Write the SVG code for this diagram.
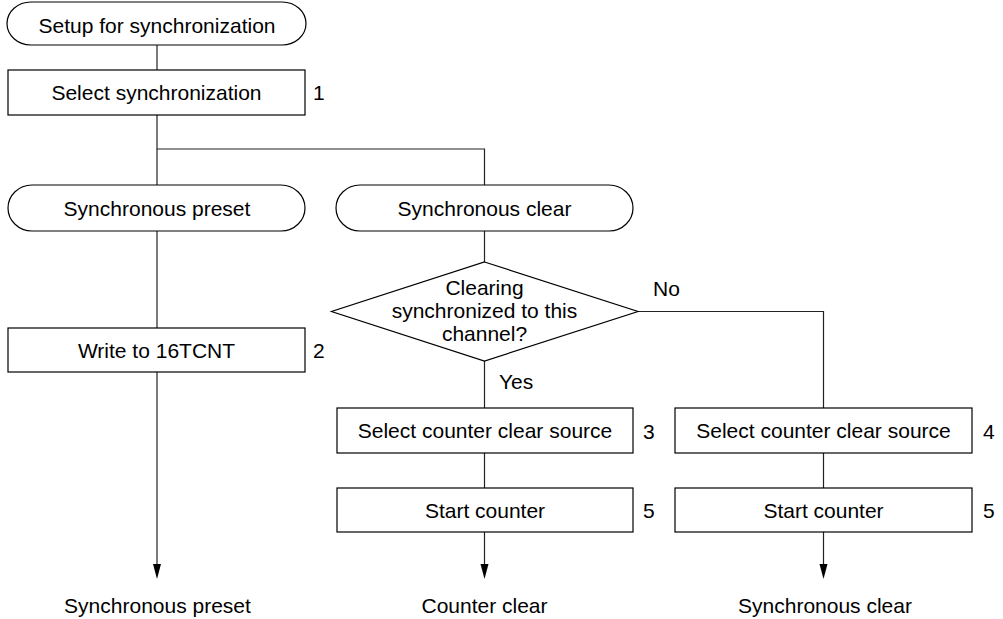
<svg xmlns="http://www.w3.org/2000/svg" width="1003" height="619" viewBox="0 0 1003 619">
<style>
  .shape { fill: #ffffff; stroke: #000000; stroke-width: 1.2; }
  .conn { fill: none; stroke: #222222; stroke-width: 1.2; }
  text { font-family: "Liberation Sans", Arial, sans-serif; font-size: 21px; fill: #000000; }
  .c { text-anchor: middle; }
</style>
<defs>
  <marker id="arr" markerWidth="8" markerHeight="15" refX="4" refY="15" orient="auto" markerUnits="userSpaceOnUse" viewBox="0 0 8 15">
    <path d="M0,0 L8,0 L4,15 Z" fill="#000000"/>
  </marker>
</defs>
<rect width="1003" height="619" fill="#ffffff"/>

<g id="connectors">
  <line class="conn" x1="157" y1="45" x2="157" y2="70"/>
  <polyline class="conn" points="157,115 157,149 484.5,149 484.5,185"/>
  <line class="conn" x1="157" y1="149" x2="157" y2="185"/>
  <line class="conn" x1="157" y1="231" x2="157" y2="328"/>
  <path class="conn" d="M157,372 V564" />
  <path d="M153,564 L161,564 L157,579 Z" fill="#000000"/>
  <line class="conn" x1="484.5" y1="231" x2="484.5" y2="262"/>
  <line class="conn" x1="484.5" y1="361" x2="484.5" y2="408"/>
  <polyline class="conn" points="638,311.5 823.5,311.5 823.5,408"/>
  <line class="conn" x1="484.5" y1="453" x2="484.5" y2="488"/>
  <path class="conn" d="M484.5,532 V564"/>
  <path d="M480.5,564 L488.5,564 L484.5,579 Z" fill="#000000"/>
  <line class="conn" x1="823.5" y1="453" x2="823.5" y2="488"/>
  <path class="conn" d="M823.5,532 V564"/>
  <path d="M819.5,564 L827.5,564 L823.5,579 Z" fill="#000000"/>
  <text x="653" y="296">No</text>
  <text x="499" y="389">Yes</text>
</g>

<g id="start">
  <rect class="shape" x="7" y="2" width="299" height="43" rx="24" ry="21.5"/>
  <text class="c" x="157" y="33">Setup for synchronization</text>
</g>

<g id="step1">
  <rect class="shape" x="8" y="70" width="297" height="45"/>
  <text class="c" x="156.5" y="100">Select synchronization</text>
  <text x="313" y="100">1</text>
</g>

<g id="sync-preset">
  <rect class="shape" x="8" y="185" width="297" height="46" rx="24" ry="23"/>
  <text class="c" x="157" y="216">Synchronous preset</text>
</g>

<g id="sync-clear">
  <rect class="shape" x="336" y="185" width="297" height="46" rx="24" ry="23"/>
  <text class="c" x="484.5" y="216">Synchronous clear</text>
</g>

<g id="step2">
  <rect class="shape" x="8" y="328" width="297" height="44"/>
  <text class="c" x="156.5" y="358">Write to 16TCNT</text>
  <text x="313" y="358">2</text>
</g>

<g id="decision">
  <polygon class="shape" points="484.5,262 638,311.5 484.5,361 331.5,311.5"/>
  <text class="c" x="484.5" y="295">Clearing</text>
  <text class="c" x="484.5" y="318">synchronized to this</text>
  <text class="c" x="484.5" y="341">channel?</text>
</g>

<g id="step3">
  <rect class="shape" x="337" y="408" width="296" height="45"/>
  <text class="c" x="485" y="438">Select counter clear source</text>
  <text x="643" y="439">3</text>
</g>

<g id="step5a">
  <rect class="shape" x="337" y="488" width="296" height="44"/>
  <text class="c" x="485" y="518">Start counter</text>
  <text x="643" y="518">5</text>
</g>

<g id="step4">
  <rect class="shape" x="675" y="408" width="297" height="45"/>
  <text class="c" x="823.5" y="438">Select counter clear source</text>
  <text x="983" y="439">4</text>
</g>

<g id="step5b">
  <rect class="shape" x="675" y="488" width="297" height="44"/>
  <text class="c" x="823.5" y="518">Start counter</text>
  <text x="983" y="518">5</text>
</g>

<g id="end-preset">
  <text class="c" x="157.5" y="613">Synchronous preset</text>
</g>
<g id="end-counter-clear">
  <text class="c" x="484.5" y="613">Counter clear</text>
</g>
<g id="end-sync-clear">
  <text class="c" x="825" y="613">Synchronous clear</text>
</g>
</svg>
